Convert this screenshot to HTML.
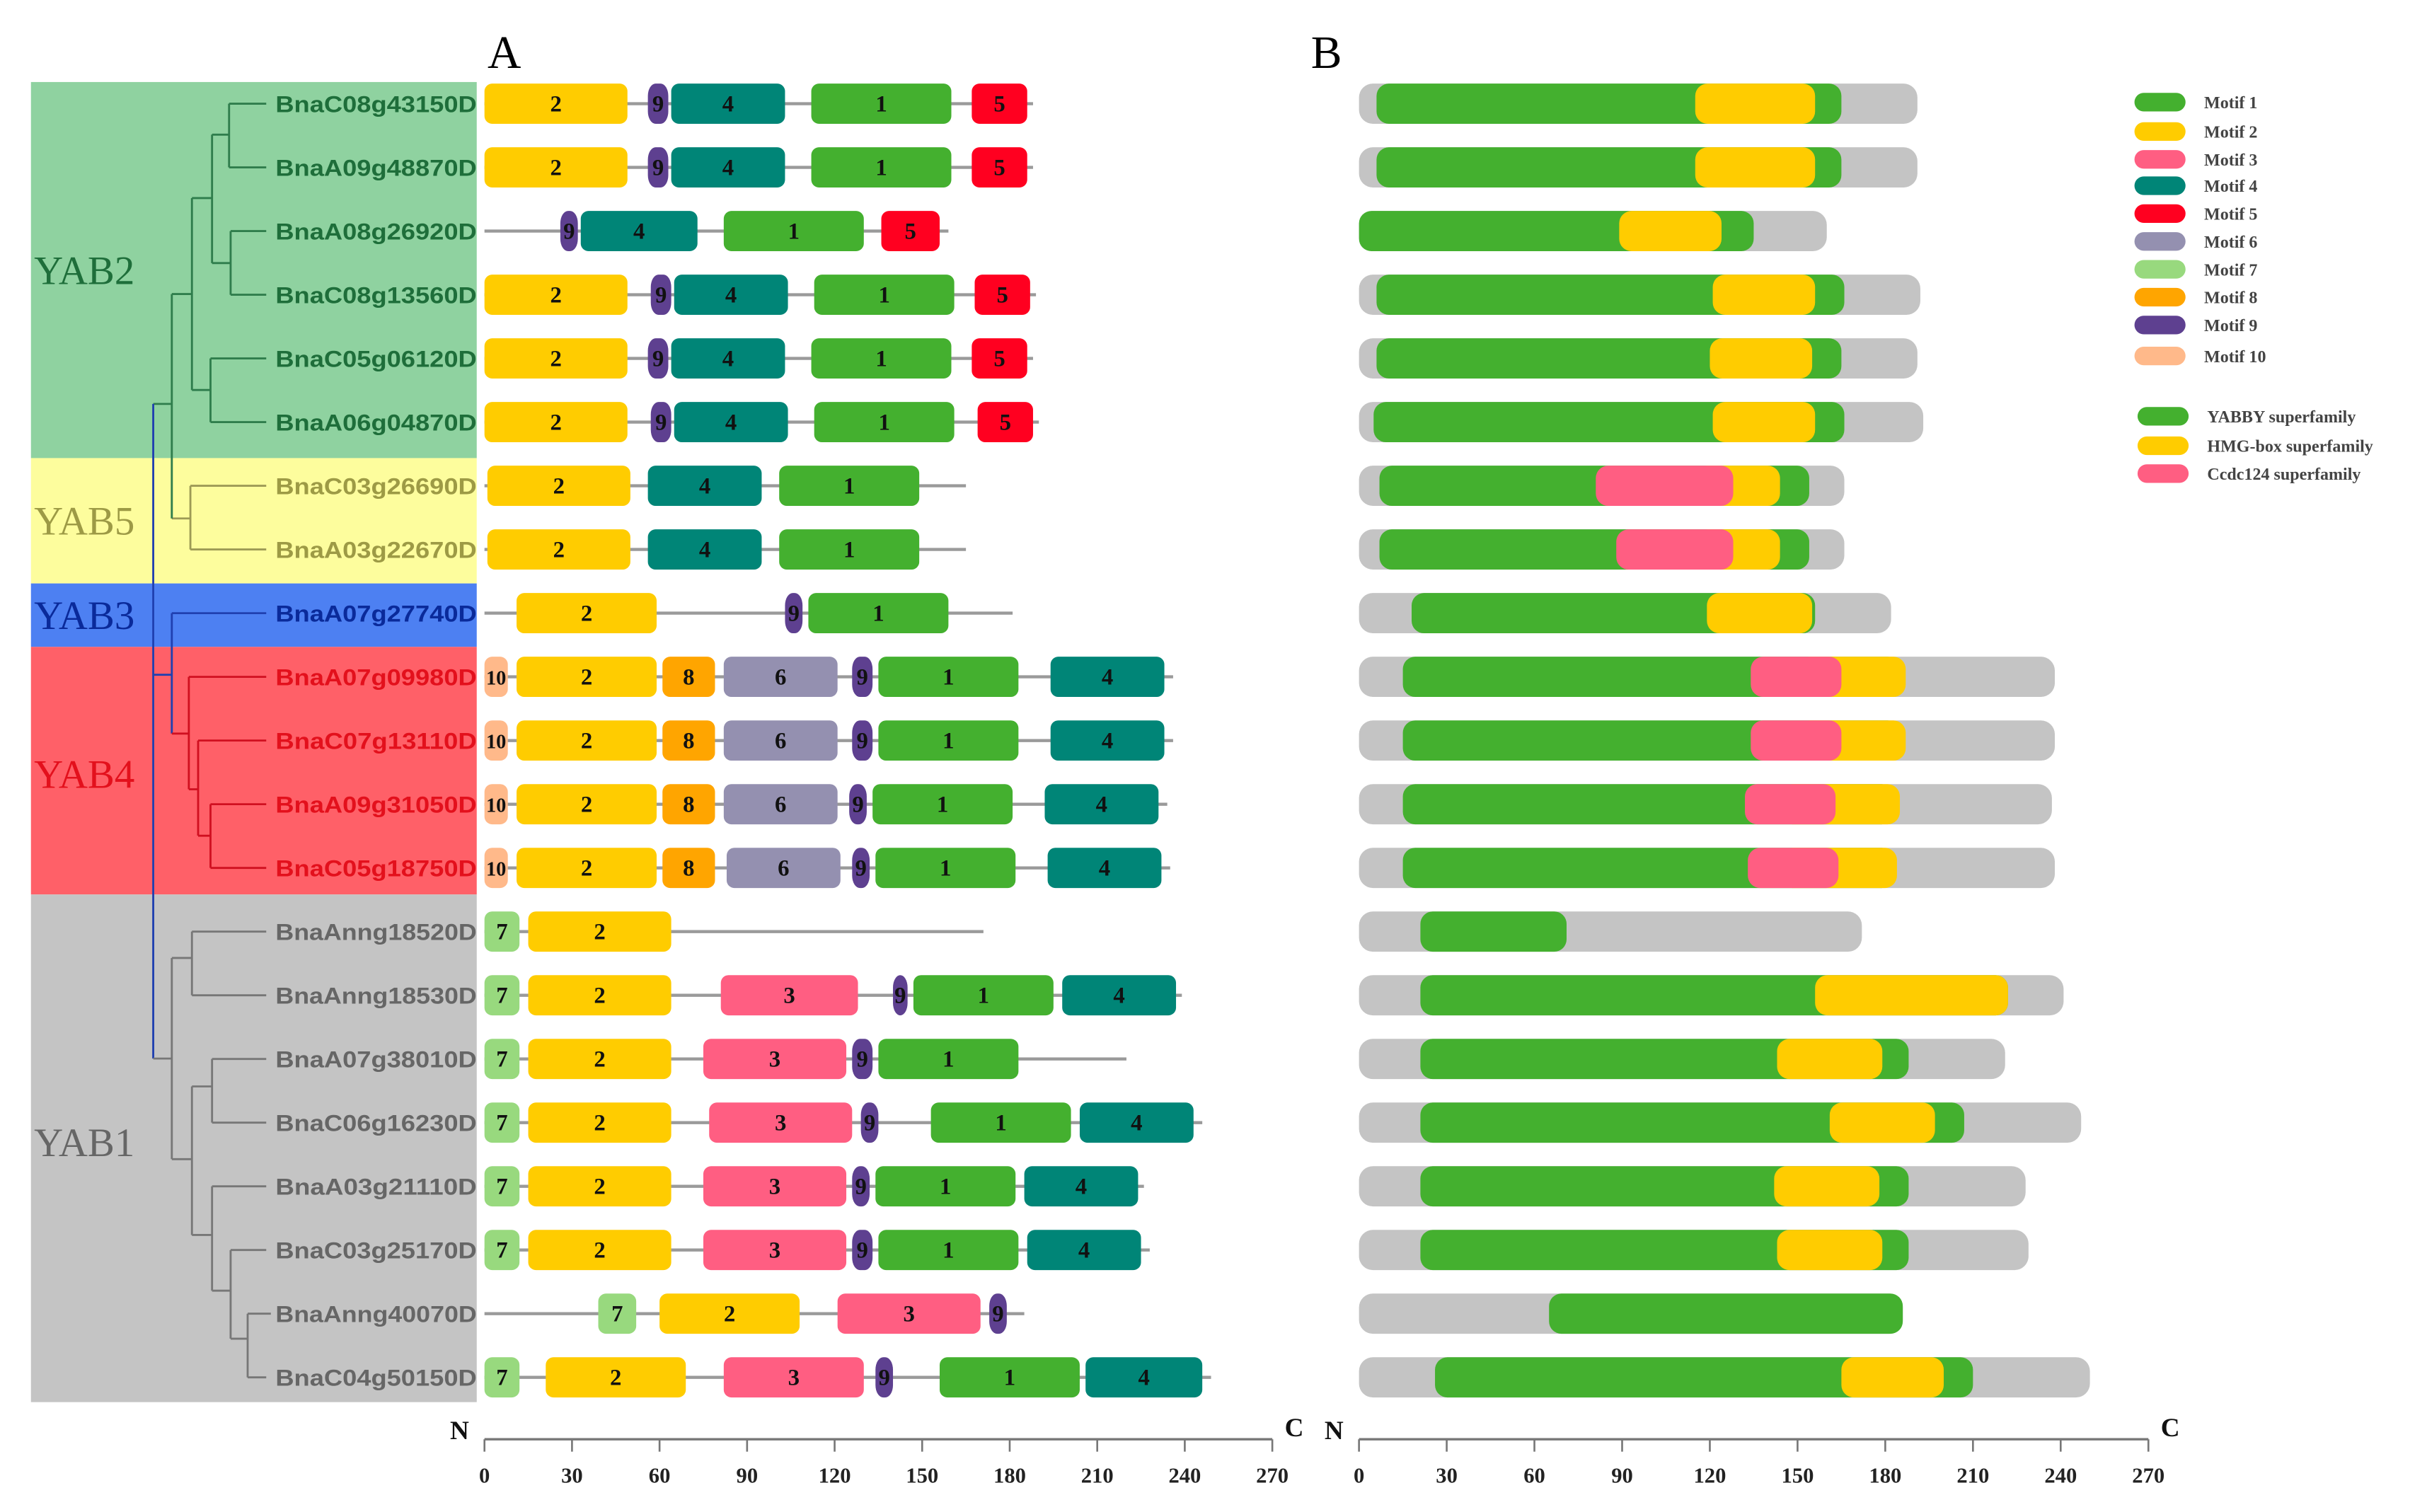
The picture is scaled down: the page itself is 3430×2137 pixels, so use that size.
<!DOCTYPE html>
<html><head><meta charset="utf-8"><style>
html,body{margin:0;padding:0;background:#fff;}
svg{display:block;}
</style></head><body>
<svg id="chart" xmlns="http://www.w3.org/2000/svg" width="3430" height="2137" viewBox="0 0 1568 977" preserveAspectRatio="none">
<g id="bg"></g><g id="tree"></g><g id="panelA"></g><g id="panelB"></g><g id="legend"></g><g id="axes"></g>
</svg>
<script>
const genes=["BnaC08g43150D","BnaA09g48870D","BnaA08g26920D","BnaC08g13560D","BnaC05g06120D","BnaA06g04870D","BnaC03g26690D","BnaA03g22670D","BnaA07g27740D","BnaA07g09980D","BnaC07g13110D","BnaA09g31050D","BnaC05g18750D","BnaAnng18520D","BnaAnng18530D","BnaA07g38010D","BnaC06g16230D","BnaA03g21110D","BnaC03g25170D","BnaAnng40070D","BnaC04g50150D"];
const geneClade=[0,0,0,0,0,0,1,1,2,3,3,3,3,4,4,4,4,4,4,4,4];
const clades=["YAB2","YAB5","YAB3","YAB4","YAB1"];
const proteinLength=[188,188,159,189,188,190,165,165,181,236,236,234,235,171,239,220,246,226,228,185,249];
const motifsA=[
[[2,0,49],[9,56,63],[4,64,103],[1,112,160],[5,167,186]],
[[2,0,49],[9,56,63],[4,64,103],[1,112,160],[5,167,186]],
[[9,26,32],[4,33,73],[1,82,130],[5,136,156]],
[[2,0,49],[9,57,64],[4,65,104],[1,113,161],[5,168,187]],
[[2,0,49],[9,56,63],[4,64,103],[1,112,160],[5,167,186]],
[[2,0,49],[9,57,64],[4,65,104],[1,113,161],[5,169,188]],
[[2,1,50],[4,56,95],[1,101,149]],
[[2,1,50],[4,56,95],[1,101,149]],
[[2,11,59],[9,103,109],[1,111,159]],
[[10,0,8],[2,11,59],[8,61,79],[6,82,121],[9,126,133],[1,135,183],[4,194,233]],
[[10,0,8],[2,11,59],[8,61,79],[6,82,121],[9,126,133],[1,135,183],[4,194,233]],
[[10,0,8],[2,11,59],[8,61,79],[6,82,121],[9,125,131],[1,133,181],[4,192,231]],
[[10,0,8],[2,11,59],[8,61,79],[6,83,122],[9,126,132],[1,134,182],[4,193,232]],
[[7,0,12],[2,15,64]],
[[7,0,12],[2,15,64],[3,81,128],[9,140,145],[1,147,195],[4,198,237]],
[[7,0,12],[2,15,64],[3,75,124],[9,126,133],[1,135,183]],
[[7,0,12],[2,15,64],[3,77,126],[9,129,135],[1,153,201],[4,204,243]],
[[7,0,12],[2,15,64],[3,75,124],[9,126,132],[1,134,182],[4,185,224]],
[[7,0,12],[2,15,64],[3,75,124],[9,126,133],[1,135,183],[4,186,225]],
[[7,39,52],[2,60,108],[3,121,170],[9,173,179]],
[[7,0,12],[2,21,69],[3,82,130],[9,134,140],[1,156,204],[4,206,246]]];
const lengthB=[191,191,160,192,191,193,166,166,182,238,238,237,238,172,241,221,247,228,229,186,250];
const domainsB=[
[["Y",6,165],["H",115,156]],[["Y",6,165],["H",115,156]],[["Y",0,135],["H",89,124]],
[["Y",6,166],["H",121,156]],[["Y",6,165],["H",120,155]],[["Y",5,166],["H",121,156]],
[["Y",7,154],["H",115,144],["C",81,128]],[["Y",7,154],["H",115,144],["C",88,128]],
[["Y",18,156],["H",119,155]],
[["Y",15,185],["H",150,187],["C",134,165]],[["Y",15,185],["H",150,187],["C",134,165]],
[["Y",15,183],["H",144,185],["C",132,163]],[["Y",15,183],["H",144,184],["C",133,164]],
[["Y",21,71]],[["Y",21,222],["H",156,222]],[["Y",21,188],["H",143,179]],
[["Y",21,207],["H",161,197]],[["Y",21,188],["H",142,178]],[["Y",21,188],["H",143,179]],
[["Y",65,186]],[["Y",26,210],["H",165,200]]];
const ticks=[0,30,60,90,120,150,180,210,240,270];
const legendMotifs=["Motif 1","Motif 2","Motif 3","Motif 4","Motif 5","Motif 6","Motif 7","Motif 8","Motif 9","Motif 10"];
const legendDomains=["YABBY superfamily","HMG-box superfamily","Ccdc124 superfamily"];

const NS="http://www.w3.org/2000/svg";
const mc={1:"#44b02f",2:"#ffcc00",3:"#ff5e82",4:"#008577",5:"#ff0020",6:"#9490b0",7:"#98d97e",8:"#ffa500",9:"#5e4090",10:"#ffb98a"};
const dc={Y:"#44b02f",H:"#ffcc00",C:"#ff5e82"};
const cladeBg=["#8fd2a0","#fdfd9d","#4d80f2","#ff6068","#c4c4c4"];
const cladeTx=["#1e6e3a","#9d9a45","#0a2a9a","#e3101c","#666666"];
const cladeRange=[[53,296],[296,377],[377,418],[418,578],[578,906]];
function el(tag,attrs,parent){const e=document.createElementNS(NS,tag);for(const k in attrs)e.setAttribute(k,attrs[k]);parent.appendChild(e);return e;}
const rowY=i=>67+i*41.15;
const xA=v=>313+v*509/270;
const xB=v=>878+v*510/270;
const bg=document.getElementById('bg'),tree=document.getElementById('tree'),pA=document.getElementById('panelA'),pB=document.getElementById('panelB'),lg=document.getElementById('legend'),ax=document.getElementById('axes');

clades.forEach((c,k)=>{
  const r=el('rect',{x:20,y:cladeRange[k][0],width:288,height:cladeRange[k][1]-cladeRange[k][0],fill:cladeBg[k]},bg);
  
  
  const mid=k===3?500:(k===4?738:(cladeRange[k][0]+cladeRange[k][1])/2);
  const t=el('text',{x:22,y:mid+9,'font-family':'Liberation Serif, serif','font-size':26,fill:cladeTx[k]},bg);
  t.textContent=c;
  
  
});

const R=rowY;
const seg=[
[148,R(0),172,R(0),0],[148,R(1),172,R(1),0],[148,R(0),148,R(1),0],[137,87,148,87,0],
[149,R(2),172,R(2),0],[149,R(3),172,R(3),0],[149,R(2),149,R(3),0],[137,170,149,170,0],
[137,87,137,170,0],[124,128,137,128,0],
[136,R(4),172,R(4),0],[136,R(5),172,R(5),0],[136,R(4),136,R(5),0],[124,252,136,252,0],
[124,128,124,252,0],[111,190,124,190,0],
[123,R(6),172,R(6),1],[123,R(7),172,R(7),1],[123,R(6),123,R(7),1],[111,335,123,335,1],
[111,190,111,335,0],[99,261,111,261,0],
[111,R(8),172,R(8),2],[111,R(8),111,474,2],[99,436,111,436,2],
[122,R(9),172,R(9),3],[128,R(10),172,R(10),3],[136,R(11),172,R(11),3],[136,R(12),172,R(12),3],
[136,R(11),136,R(12),3],[128,540,136,540,3],[128,R(10),128,540,3],[122,510,128,510,3],[122,R(9),122,510,3],[111,474,122,474,3],
[99,261,99,684,2],
[124,R(13),172,R(13),4],[124,R(14),172,R(14),4],[124,R(13),124,R(14),4],[111,619,124,619,4],
[137,R(15),172,R(15),4],[137,R(16),172,R(16),4],[137,R(15),137,R(16),4],[124,702,137,702,4],
[137,R(17),172,R(17),4],[149,R(18),172,R(18),4],[160,R(19),175,R(19),4],[160,R(20),172,R(20),4],
[160,R(19),160,R(20),4],[149,865,160,865,4],[149,R(18),149,865,4],[137,834,149,834,4],[137,R(17),137,834,4],
[124,798,137,798,4],[124,702,124,798,4],[111,749,124,749,4],[111,619,111,749,4],[99,684,111,684,4]];
const treeCol=["#2f7d4c","#9d9a55","#2040b0","#d01020","#777777"];
seg.forEach(s=>{
  const l=el('line',{x1:s[0],y1:s[1],x2:s[2],y2:s[3],stroke:treeCol[s[4]],'stroke-width':1.3},tree);
  
  
});

genes.forEach((g,i)=>{
  const y=rowY(i);
  const t=el('text',{x:308,y:y+5.5,'text-anchor':'end','font-family':'Liberation Sans, sans-serif','font-weight':'bold','font-size':15,fill:cladeTx[geneClade[i]],textLength:130,lengthAdjust:'spacingAndGlyphs'},bg);
  t.textContent=g;
  
  
  const ln=el('line',{x1:xA(0),y1:y,x2:xA(proteinLength[i]),y2:y,stroke:'#9a9a9a','stroke-width':2},pA);
  
  
  motifsA[i].forEach(m=>{
    const x1=xA(m[1]),x2=xA(m[2]),w=x2-x1;
    const r=el('rect',{x:x1,y:y-13,width:w,height:26,rx:Math.min(5,w/2),ry:m[0]===9?8:5,fill:mc[m[0]]},pA);
    
    
    const t2=el('text',{x:(x1+x2)/2,y:y+5,'text-anchor':'middle','font-family':'Liberation Serif, serif','font-weight':'bold','font-size':m[0]===10?13:15,fill:'#111'},pA);
    t2.textContent=m[0];
    
    
  });
  const gb=el('rect',{x:xB(0),y:y-13,width:xB(lengthB[i])-xB(0),height:26,rx:9,fill:'#c4c4c4'},pB);
  
  
  domainsB[i].forEach(d=>{
    const r=el('rect',{x:xB(d[1]),y:y-13,width:xB(d[2])-xB(d[1]),height:26,rx:8,fill:dc[d[0]]},pB);
    
    
  });
});

legendMotifs.forEach((m,k)=>{
  const y=[66,85,103,120,138,156,174,192,210,230][k];
  const r=el('rect',{x:1379,y:y-6,width:33,height:12,rx:6,fill:mc[k+1]},lg);
  
  
  const t=el('text',{x:1424,y:y+4,'font-family':'Liberation Serif, serif','font-weight':'bold','font-size':11,fill:'#444'},lg);
  t.textContent=m;
  
  
});
legendDomains.forEach((m,k)=>{
  const y=[269,288,306][k];
  const r=el('rect',{x:1381,y:y-6,width:33,height:12,rx:6,fill:dc["YHC"[k]]},lg);
  
  
  const t=el('text',{x:1426,y:y+4,'font-family':'Liberation Serif, serif','font-weight':'bold','font-size':11,fill:'#444'},lg);
  t.textContent=m;
  
  
});

[[xA,'a'],[xB,'b']].forEach(([f,n])=>{
  const l=el('line',{x1:f(0),y1:930,x2:f(270),y2:930,stroke:'#777','stroke-width':1.5},ax);
  
  
  ticks.forEach(v=>{
    const tk=el('line',{x1:f(v),y1:930,x2:f(v),y2:938,stroke:'#777','stroke-width':1.2},ax);
    
    
    const t=el('text',{x:f(v),y:958,'text-anchor':'middle','font-family':'Liberation Serif, serif','font-weight':'bold','font-size':14,fill:'#222'},ax);
    t.textContent=v;
    
    
  });
  const N=el('text',{x:f(0)-10,y:930,'text-anchor':'end','font-family':'Liberation Serif, serif','font-weight':'bold','font-size':17,fill:'#111'},ax);
  N.textContent='N';
  
  
  const C=el('text',{x:f(270)+8,y:928,'font-family':'Liberation Serif, serif','font-weight':'bold','font-size':17,fill:'#111'},ax);
  C.textContent='C';
  
  
});
const A=el('text',{x:315,y:44,'font-family':'Liberation Serif, serif','font-size':30,fill:'#000'},ax);
A.textContent='A';


const B=el('text',{x:847,y:44,'font-family':'Liberation Serif, serif','font-size':30,fill:'#000'},ax);
B.textContent='B';


</script>
</body></html>
